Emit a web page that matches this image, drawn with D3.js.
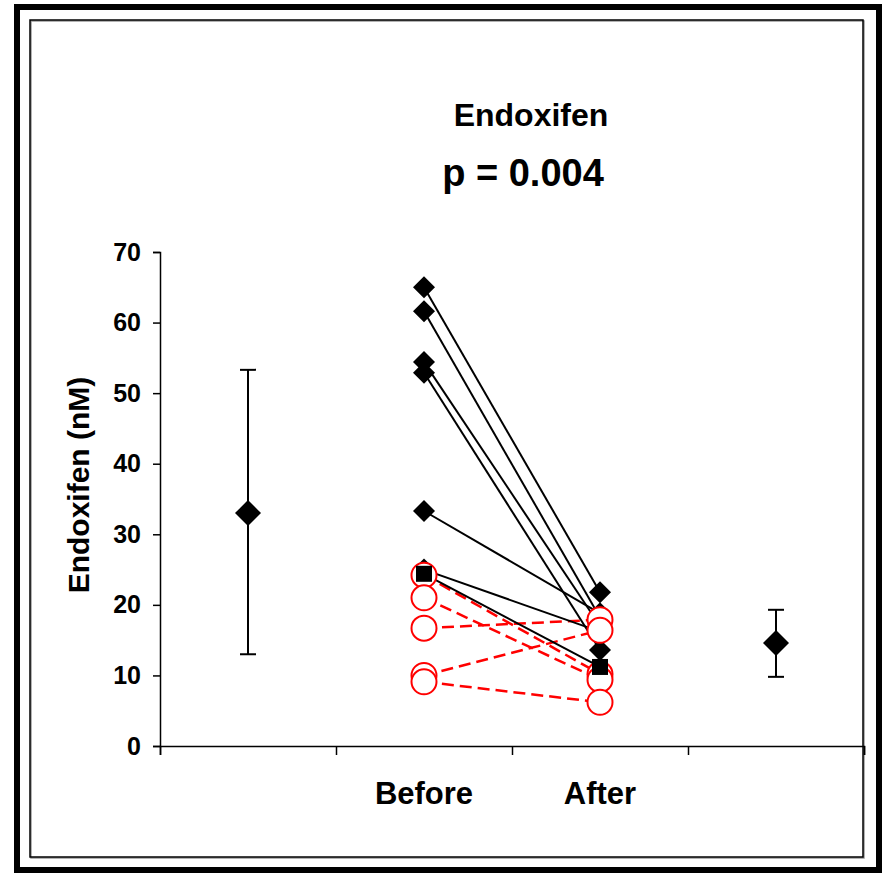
<!DOCTYPE html>
<html>
<head>
<meta charset="utf-8">
<script src="https://cdn.jsdelivr.net/npm/d3@7"></script>
<style>
  body {margin: 0; background: #fff;}
  text {font-family: "Liberation Sans", Arial, sans-serif; font-weight: bold;}
</style>
</head>
<body>
<script>
// categories along x (first and last hold the mean ± SD)
const xLabels = ['', 'Before', 'After', '']
const yTicks = [0, 10, 20, 30, 40, 50, 60, 70]

// paired values, black = solid lines with diamonds
const blackBefore = [65.0, 61.6, 54.4, 52.9, 33.3, 25.0]
const blackAfter = [21.8, 18.2, 17.0, 13.6, 18.8, 16.2]
// one black pair drawn with squares
const squareBefore = [24.4]
const squareAfter = [11.2]
// red = dashed lines with open circles
const redBefore = [24.2, 21.0, 16.7, 10.0, 9.1]
const redAfter = [10.2, 9.4, 17.9, 16.4, 6.2]

// mean and error bar ends (before, after)
const meanVals = [33.0, 14.6]
const errLow = [13.0, 9.8]
const errHigh = [53.3, 19.3]

const svgWidth = 884
const svgHeight = 873

const svg = d3.select('body').append('svg')
  .attr('width', svgWidth).attr('height', svgHeight)

// frames
svg.append('rect')
  .attr('x', 17).attr('y', 7).attr('width', 862).attr('height', 863)
  .attr('fill', 'none').attr('stroke', '#000').attr('stroke-width', 6)
svg.append('rect')
  .attr('x', 31).attr('y', 21).attr('width', 833).attr('height', 837)
  .attr('fill', 'none').attr('stroke', '#999').attr('stroke-width', 1.5)
svg.append('rect')
  .attr('x', 30).attr('y', 20).attr('width', 833).attr('height', 837)
  .attr('fill', 'none').attr('stroke', '#000').attr('stroke-width', 1.5)

const plotLeft = 160, plotRight = 864, plotTop = 252, plotBottom = 746

const x = d3.scaleBand().domain(d3.range(xLabels.length)).range([plotLeft, plotRight]).padding(0)
const xEdge = d3.scaleLinear().domain([0, xLabels.length]).range([plotLeft, plotRight])
const y = d3.scaleLinear().domain([0, 70]).range([plotBottom, plotTop])
const cx = i => x(i) + x.bandwidth() / 2

// y axis
const yAxis = svg.append('g')
  .attr('transform', `translate(${plotLeft},0)`)
  .call(d3.axisLeft(y).tickValues(yTicks).tickSize(7).tickPadding(12))
yAxis.selectAll('path, line').attr('stroke', '#000').attr('stroke-width', 1.5)
yAxis.selectAll('text').attr('font-size', 25).attr('fill', '#000')
  .style('font-family', '"Liberation Sans", Arial, sans-serif').style('font-weight', 'bold')

// x axis: tick marks between categories
const xTickG = svg.append('g')
  .attr('transform', `translate(0,${plotBottom})`)
  .call(d3.axisBottom(xEdge).tickValues(d3.range(xLabels.length + 1)).tickSize(9).tickFormat(''))
xTickG.selectAll('path, line').attr('stroke', '#000').attr('stroke-width', 1.5)

const xLabG = svg.append('g')
  .attr('transform', `translate(0,${plotBottom})`)
  .call(d3.axisBottom(x).tickSize(0).tickPadding(36).tickFormat(i => xLabels[i]))
xLabG.select('.domain').remove()
xLabG.selectAll('text').attr('font-size', 31).attr('fill', '#000')
  .style('font-family', '"Liberation Sans", Arial, sans-serif').style('font-weight', 'bold')

// titles
svg.append('text').attr('x', 531).attr('y', 126).attr('text-anchor', 'middle')
  .attr('font-size', 32).text('Endoxifen')
svg.append('text').attr('x', 523).attr('y', 186).attr('text-anchor', 'middle')
  .attr('font-size', 38).text('p = 0.004')
svg.append('text')
  .attr('transform', `translate(89,${(plotTop + plotBottom) / 2 - 14}) rotate(-90)`)
  .attr('text-anchor', 'middle').attr('font-size', 30).text('Endoxifen (nM)')

const diamond = d3.symbol().type(d3.symbolSquare).size(2 * 11 * 11)
const bigDiamond = d3.symbol().type(d3.symbolSquare).size(2 * 13 * 13)
const square = d3.symbol().type(d3.symbolSquare).size(16 * 16)
const circle = d3.symbol().type(d3.symbolCircle).size(Math.PI * 12.5 * 12.5)

const xb = cx(1), xa = cx(2)

// red dashed pairs
const redG = svg.append('g')
redG.selectAll('line').data(redBefore).enter().append('line')
  .attr('x1', xb).attr('y1', d => y(d))
  .attr('x2', xa).attr('y2', (d, i) => y(redAfter[i]))
  .attr('stroke', '#ff0000').attr('stroke-width', 2.5).attr('stroke-dasharray', '12,6')

// black solid pairs
const blackG = svg.append('g')
blackG.selectAll('line').data(blackBefore).enter().append('line')
  .attr('x1', xb).attr('y1', d => y(d))
  .attr('x2', xa).attr('y2', (d, i) => y(blackAfter[i]))
  .attr('stroke', '#000').attr('stroke-width', 2)
blackG.selectAll('line.sq').data(squareBefore).enter().append('line')
  .attr('class', 'sq')
  .attr('x1', xb).attr('y1', d => y(d))
  .attr('x2', xa).attr('y2', (d, i) => y(squareAfter[i]))
  .attr('stroke', '#000').attr('stroke-width', 2)

// black diamonds
const diamondPts = blackBefore.map(v => [xb, v]).concat(blackAfter.map(v => [xa, v]))
svg.append('g').selectAll('path').data(diamondPts).enter().append('path')
  .attr('d', diamond)
  .attr('transform', d => `translate(${d[0]},${y(d[1])}) rotate(45)`)
  .attr('fill', '#000')

// red circles
const circlePts = redBefore.map(v => [xb, v]).concat(redAfter.map(v => [xa, v]))
svg.append('g').selectAll('path').data(circlePts).enter().append('path')
  .attr('d', circle)
  .attr('transform', d => `translate(${d[0]},${y(d[1])})`)
  .attr('fill', '#fff').attr('stroke', '#ff0000').attr('stroke-width', 2)

// squares
const squarePts = squareBefore.map(v => [xb, v]).concat(squareAfter.map(v => [xa, v]))
svg.append('g').selectAll('path').data(squarePts).enter().append('path')
  .attr('d', square)
  .attr('transform', d => `translate(${d[0]},${y(d[1])})`)
  .attr('fill', '#000')

// mean ± SD
const meanX = [cx(0), cx(3)]
const errG = svg.append('g')
meanVals.forEach((m, i) => {
  const g = errG.append('g')
  g.append('line').attr('x1', meanX[i]).attr('x2', meanX[i])
    .attr('y1', y(errLow[i])).attr('y2', y(errHigh[i]))
    .attr('stroke', '#000').attr('stroke-width', 2)
  ;[errLow[i], errHigh[i]].forEach(v => {
    g.append('line').attr('x1', meanX[i] - 8).attr('x2', meanX[i] + 8)
      .attr('y1', y(v)).attr('y2', y(v))
      .attr('stroke', '#000').attr('stroke-width', 2)
  })
  g.append('path').attr('d', bigDiamond)
    .attr('transform', `translate(${meanX[i]},${y(m)}) rotate(45)`)
    .attr('fill', '#000')
})
</script>
</body>
</html>
